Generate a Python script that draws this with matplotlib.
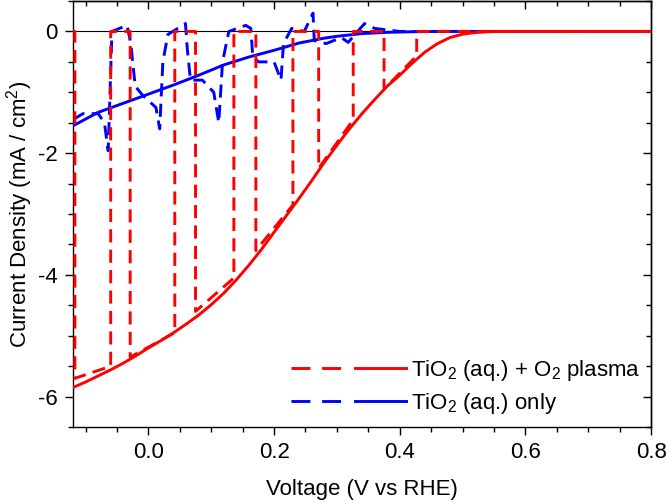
import numpy as np
import matplotlib
matplotlib.use('Agg')
import matplotlib.pyplot as plt
from matplotlib.lines import Line2D
from matplotlib.legend_handler import HandlerTuple

plt.rcParams['font.family'] = ['Liberation Sans', 'DejaVu Sans']
plt.rcParams['axes.unicode_minus'] = False
plt.rcParams['mathtext.fontset'] = 'custom'
plt.rcParams['mathtext.rm'] = 'Liberation Sans'

# Continuous illumination (solid lines)
plasma_v = [-0.12, -0.1, -0.08, -0.06, -0.04, -0.02, 0.0, 0.02, 0.04, 0.06, 0.08,
            0.1, 0.12, 0.14, 0.16, 0.18, 0.2, 0.22, 0.24, 0.26, 0.28, 0.3, 0.32,
            0.34, 0.36, 0.38, 0.4, 0.42, 0.44, 0.46, 0.48, 0.5, 0.52, 0.54, 0.56,
            0.6, 0.8]
plasma_j = [-5.85, -5.76, -5.66, -5.56, -5.45, -5.33, -5.2, -5.08, -4.95, -4.81,
            -4.66, -4.49, -4.3, -4.08, -3.84, -3.58, -3.3, -3.02, -2.74, -2.45,
            -2.15, -1.87, -1.6, -1.35, -1.12, -0.9, -0.72, -0.52, -0.34, -0.2,
            -0.1, -0.045, -0.018, -0.006, 0.0, 0.0, 0.0]

only_v = [-0.12, -0.08, -0.04, 0.0, 0.04, 0.08, 0.12, 0.16, 0.2, 0.24, 0.28,
          0.3, 0.34, 0.38, 0.42, 0.46, 0.5, 0.8]
only_j = [-1.55, -1.33, -1.18, -1.03, -0.88, -0.72, -0.55, -0.42, -0.31, -0.19,
          -0.11, -0.08, -0.035, -0.015, -0.005, 0.0, 0.0, 0.0]

# Chopped illumination (dashed lines)
plasma_chop_v = [-0.12, -0.117, -0.117, -0.06, -0.06, -0.029, -0.029, 0.042, 0.042,
                 0.075, 0.075, 0.136, 0.136, 0.171, 0.171, 0.230, 0.230, 0.271,
                 0.271, 0.326, 0.326, 0.375, 0.375, 0.427, 0.427, 0.5, 0.6, 0.8]
plasma_chop_j = [0.0, 0.0, -5.7, -5.5, 0.0, 0.0, -5.35, -4.95, 0.0, 0.0, -4.6,
                 -4.05, 0.0, 0.0, -3.6, -2.85, 0.0, 0.0, -2.25, -1.45, 0.0, 0.0,
                 -0.95, -0.4, 0.0, 0.0, 0.0, 0.0]

only_chop_v = [-0.12, -0.104, -0.08, -0.07, -0.064, -0.058, -0.034, -0.028, -0.021,
               -0.009, 0.012, 0.018, 0.023, 0.031, 0.059, 0.062, 0.067, 0.086,
               0.104, 0.112, 0.118, 0.128, 0.155, 0.163, 0.166, 0.175, 0.2, 0.211,
               0.215, 0.228, 0.248, 0.262, 0.264, 0.283, 0.307, 0.318, 0.344, 0.36,
               0.4, 0.45, 0.5, 0.6, 0.8]
only_chop_j = [-1.45, -1.35, -1.35, -1.5, -1.96, 0.0, 0.1, -0.2, -0.9, -1.05,
               -1.25, -1.6, -0.5, -0.05, 0.13, -0.3, -0.8, -0.8, -1.0, -1.5, -0.5,
               0.0, 0.1, 0.05, -0.4, -0.5, -0.5, -0.8, -0.2, 0.05, 0.0, 0.3, -0.15,
               -0.2, -0.1, -0.18, 0.13, 0.05, 0.0, 0.0, 0.0, 0.0, 0.0]

labels = ['TiO$_2$ (aq.) + O$_2$ plasma', 'TiO$_2$ (aq.) only']
xticks = [0.0, 0.2, 0.4, 0.6, 0.8]
yticks = [-6, -4, -2, 0]

red = '#ff0000'
blue = '#0000ff'
dash = (4.5, 2.5)

fig = plt.figure(figsize=(6.66, 5.03), dpi=100)
ax = fig.add_axes([0.1096, 0.151, 0.868, 0.847])

ax.axhline(0, color='black', lw=0.8, zorder=1)

ax.plot(only_chop_v, only_chop_j, color=blue, lw=2.1, dashes=dash, zorder=2)
ax.plot(only_v, only_j, color=blue, lw=2.1, zorder=3)
ax.plot(plasma_chop_v, plasma_chop_j, color=red, lw=2.1, dashes=dash, zorder=4)
ax.plot(plasma_v, plasma_j, color=red, lw=2.1, zorder=5)

ax.set_xlim(-0.12, 0.8)
ax.set_ylim(-6.5, 0.5)

xminor = np.arange(-0.1, 0.81, 0.05)
yminor = np.arange(-6.5, 0.51, 0.5)
ax.set_xticks(xticks)
ax.set_xticklabels([f'{v:.1f}' for v in xticks])
ax.set_xticks(xminor, minor=True)
ax.set_yticks(yticks)
ax.set_yticks(yminor, minor=True)

for sp in ax.spines.values():
    sp.set_linewidth(1.0)

ax.tick_params(which='both', labelsize=16, width=1.0, direction='out')
ax.tick_params(which='major', length=6, pad=5)
ax.tick_params(which='minor', length=3.5)

# inward ticks on top and right, no labels
top = ax.secondary_xaxis('top')
top.set_xticks(xticks)
top.set_xticks(xminor, minor=True)
right = ax.secondary_yaxis('right')
right.set_yticks(yticks)
right.set_yticks(yminor, minor=True)
for sec in (top, right):
    sec.tick_params(which='both', direction='in', width=1.0, labeltop=False,
                    labelright=False)
    sec.tick_params(which='major', length=6)
    sec.tick_params(which='minor', length=3.5)
    for sp in sec.spines.values():
        sp.set_linewidth(1.0)

ax.set_xlabel('Voltage (V vs RHE)', fontsize=16, labelpad=11)
ax.set_ylabel('Current Density (mA / cm$^2$)', fontsize=16, labelpad=2)

# legend: dashed (chopped) + solid (continuous) per sample
h_red = (Line2D([], [], color=red, lw=2.1, dashes=(6.5, 4)), Line2D([], [], color=red, lw=2.1))
h_blue = (Line2D([], [], color=blue, lw=2.1, dashes=(6.5, 4)), Line2D([], [], color=blue, lw=2.1))
ax.legend([h_red, h_blue], labels, loc='lower right', frameon=False, fontsize=16,
          handler_map={tuple: HandlerTuple(ndivide=2, pad=0.6)},
          handlelength=5.2, handletextpad=0.2, labelspacing=0.35,
          borderaxespad=0.2, borderpad=0.3)

fig.savefig('out.png', dpi=100)
